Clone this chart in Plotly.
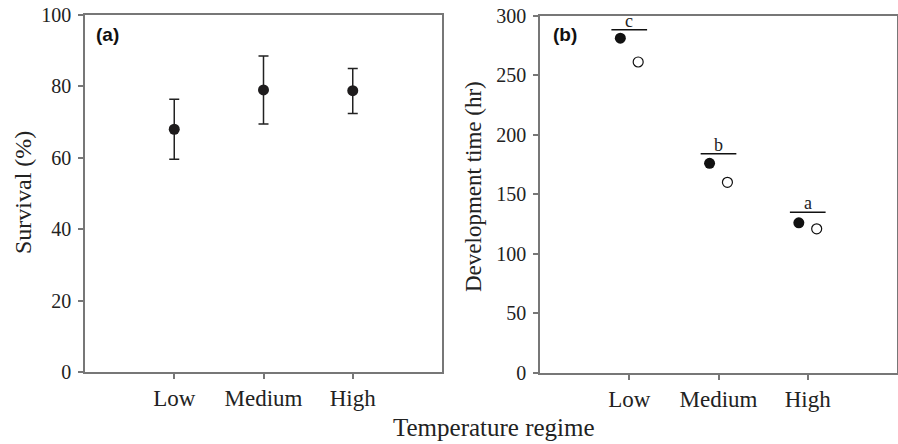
import plotly.graph_objects as go

# ---- data ----
categories = ["Low", "Medium", "High"]
survival = [68.0, 79.0, 78.8]
survival_err_up = [8.4, 9.5, 6.2]
survival_err_down = [8.4, 9.5, 6.4]

dev_filled = [281, 176, 126]
dev_filled_err = [2, 4, 2]
dev_open = [261, 160, 121]
sig_y = [288, 184, 135]
sig_letters = ["c", "b", "a"]

# ---- styles ----
FONT = "Liberation Serif"
TXT = "#222222"
AX = "#777777"
W, H = 898, 444

xpos = [i + 1 for i in range(len(categories))]

fig = go.Figure()

# Panel (a)
fig.add_trace(go.Scatter(
    x=xpos, y=survival, mode="markers",
    marker=dict(symbol="circle", size=11, color="#1e1c1d"),
    error_y=dict(type="data", symmetric=False, array=survival_err_up,
                 arrayminus=survival_err_down, color="#222222",
                 thickness=1.5, width=5),
    xaxis="x", yaxis="y", showlegend=False))

# Panel (b)
off = 0.1
fig.add_trace(go.Scatter(
    x=[p - off for p in xpos], y=dev_filled, mode="markers",
    marker=dict(symbol="circle", size=11, color="#111111"),
    error_y=dict(type="data", array=dev_filled_err, color="#111111",
                 thickness=1.5, width=0),
    xaxis="x2", yaxis="y2", showlegend=False))
fig.add_trace(go.Scatter(
    x=[p + off for p in xpos], y=dev_open, mode="markers",
    marker=dict(symbol="circle", size=10, color="white",
                line=dict(color="#111111", width=1.2)),
    xaxis="x2", yaxis="y2", showlegend=False))

for p, yv, lt in zip(xpos, sig_y, sig_letters):
    fig.add_trace(go.Scatter(
        x=[p - 0.2, p + 0.2], y=[yv, yv], mode="lines",
        line=dict(color="#111111", width=1.5),
        xaxis="x2", yaxis="y2", showlegend=False, hoverinfo="skip"))
    fig.add_annotation(x=p, y=yv, xref="x2", yref="y2", text=lt,
                       showarrow=False, xanchor="center", yanchor="bottom",
                       yshift=-3,
                       font=dict(family=FONT, size=18, color=TXT))

ax_common = dict(showline=True, linecolor=AX, linewidth=1.5, mirror=True,
                 ticks="outside", tickcolor=AX, tickwidth=1.5, ticklen=5,
                 showgrid=False, zeroline=False, automargin=False)
xfont = dict(family=FONT, size=23, color=TXT)
yfont = dict(family=FONT, size=20, color=TXT)

fig.update_layout(
    width=W, height=H,
    margin=dict(l=0, r=0, t=0, b=0, autoexpand=False),
    paper_bgcolor="white", plot_bgcolor="white",
    xaxis=dict(domain=[85 / W, 442 / W], range=[0, 4], tickvals=xpos,
               ticktext=categories, anchor="y", tickfont=xfont, **ax_common),
    yaxis=dict(domain=[1 - 372 / H, 1 - 15 / H], range=[0, 100],
               tickvals=[0, 20, 40, 60, 80, 100], anchor="x",
               tickfont=yfont, ticklabelstandoff=3, **ax_common),
    xaxis2=dict(domain=[540 / W, 897 / W], range=[0, 4], tickvals=xpos,
                ticktext=categories, anchor="y2", tickfont=xfont, **ax_common),
    yaxis2=dict(domain=[1 - 373 / H, 1 - 15.5 / H], range=[0, 300],
                tickvals=[0, 50, 100, 150, 200, 250, 300], anchor="x2",
                tickfont=yfont, ticklabelstandoff=3, **ax_common),
)

fig.add_annotation(x=23 / W, y=1 - 193 / H, xref="paper", yref="paper",
                   text="Survival (%)", textangle=-90, showarrow=False,
                   xanchor="center", yanchor="middle",
                   font=dict(family=FONT, size=24, color=TXT))
fig.add_annotation(x=473 / W, y=1 - 187 / H, xref="paper", yref="paper",
                   text="Development time (hr)", textangle=-90, showarrow=False,
                   xanchor="center", yanchor="middle",
                   font=dict(family=FONT, size=23, color=TXT))
fig.add_annotation(x=494 / W, y=1 - 427 / H, xref="paper", yref="paper",
                   text="Temperature regime", showarrow=False,
                   xanchor="center", yanchor="middle",
                   font=dict(family=FONT, size=25, color=TXT))
fig.add_annotation(x=94 / W, y=1 - 35 / H, xref="paper", yref="paper",
                   text="<b>(a)</b>", showarrow=False, xanchor="left",
                   yanchor="middle",
                   font=dict(family="Liberation Sans", size=19, color="#111111"))
fig.add_annotation(x=551 / W, y=1 - 35 / H, xref="paper", yref="paper",
                   text="<b>(b)</b>", showarrow=False, xanchor="left",
                   yanchor="middle",
                   font=dict(family="Liberation Sans", size=19, color="#111111"))

fig.write_html("out.html")
